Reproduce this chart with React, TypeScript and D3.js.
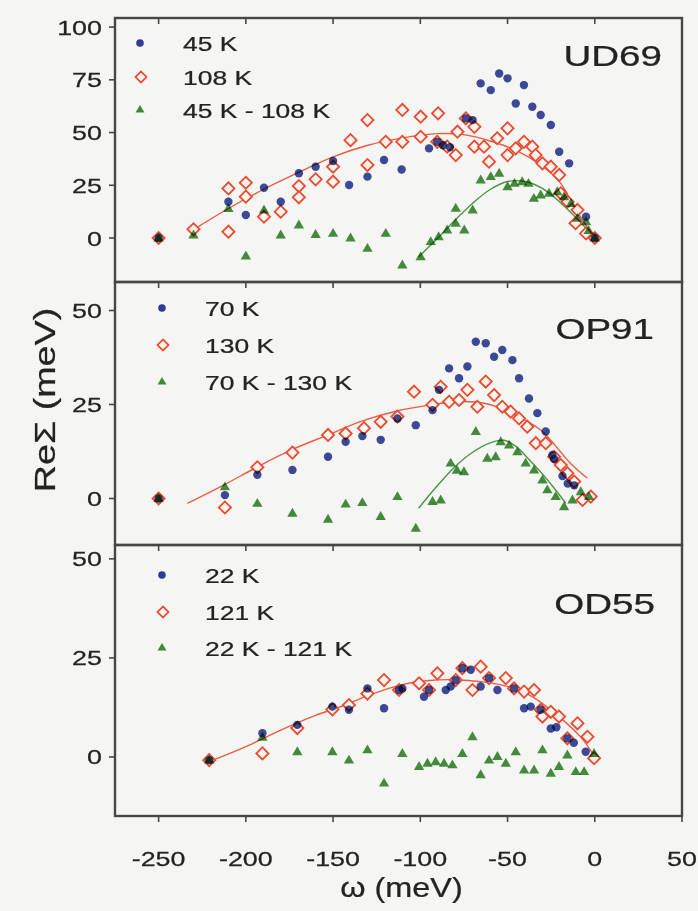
import React from "react";
import * as d3 from "d3";

type Pt = [number, number];

// shared energy axis (meV)
const xTicks = [-250, -200, -150, -100, -50, 0, 50];

// ---- UD69 ----
const ud69Cold: Pt[] = [
  [-250, 0], [-210, 17.2], [-200, 10.9], [-189.6, 23.8], [-180, 17.2], [-169.6, 30.7],
  [-160, 33.8], [-150, 36.5], [-140.8, 25.1], [-130.3, 29.1], [-120.8, 37], [-110.7, 32.5],
  [-95, 42.5], [-90.3, 45.6], [-87, 44], [-83, 43], [-73.9, 56.7], [-70, 55.9],
  [-65.4, 73.3], [-59.6, 70.1], [-54.8, 78], [-50, 75.7], [-45.3, 63.8], [-40.6, 72.5],
  [-35.8, 62.2], [-31, 58.3], [-25.2, 53.6], [-20.4, 40.9], [-14.7, 35.4], [-5, 10.1], [0, 0],
];
const ud69Warm: Pt[] = [
  [-250, 0], [-230, 4.1], [-210, 23.5], [-210, 3], [-200, 26.2], [-200, 19.6], [-189.6, 10.1],
  [-180, 12.5], [-169.6, 24.6], [-169.6, 19.3], [-160, 27.8], [-150, 33.8], [-150, 26.7],
  [-140, 46.4], [-130.3, 55.9], [-130.3, 34.6], [-119.8, 45.6], [-110.3, 45.6], [-110.3, 60.7],
  [-99.8, 57.5], [-89.8, 59.1], [-99.8, 48], [-90.3, 45.6], [-84.6, 43.3], [-79.7, 39.3],
  [-78.7, 50.4], [-73.9, 56.7], [-69, 52.7], [-69, 43.3], [-63.5, 43.3], [-60.6, 36.2],
  [-55.9, 47.3], [-50, 52], [-50, 39.3], [-45.3, 42.5], [-40.6, 45.6], [-35.8, 43.3],
  [-33.9, 39.3], [-30, 35.4], [-25.2, 33.8], [-20.4, 29.9], [-19.5, 21.2], [-15.6, 17.2],
  [-9.9, 13.3], [-11, 7], [-5, 2.2], [0, 0],
];
const ud69Diff: Pt[] = [
  [-250, 0], [-230, 1.4], [-210, 14], [-200, -8.5], [-189.6, 13.3], [-180, 1.4], [-169.6, 6.2],
  [-160, 1.7], [-150, 2.2], [-140, 0], [-130.3, -4.9], [-119.8, 2.2], [-110.3, -12.8],
  [-99.8, -8.9], [-94, -1.7], [-89.5, 0.6], [-84.6, 3.8], [-79.7, 7], [-79.7, 14.1],
  [-74.8, 3.8], [-70, 13.3], [-65.4, 27.5], [-59.6, 29.1], [-54.8, 30.7], [-50, 24.3],
  [-46, 25.9], [-41.6, 26.7], [-38, 25.9], [-34.9, 18.8], [-31, 20.4], [-26.2, 21.2],
  [-21.5, 21.9], [-17.6, 19.6], [-13.7, 16.4], [-9.9, 9.3], [-5, 7.7], [-3.5, 3.5], [0, 0],
];
const ud69WarmFit: Pt[] = [
  [-230, 4], [-210, 14], [-190, 23], [-170, 31], [-150, 38.5], [-130, 44], [-110, 47.5],
  [-90, 49.5], [-75, 49], [-60, 46], [-45, 41.5], [-30, 34], [-20, 26.5], [-12, 15], [-5, 6], [0, 0],
];
const ud69DiffFit: Pt[] = [
  [-101, -9], [-90, 0], [-80, 8.5], [-70, 16.5], [-60, 23], [-50, 26.8], [-40, 26.8],
  [-30, 23.5], [-20, 17], [-10, 9], [0, 0],
];

// ---- OP91 ----
const op91Cold: Pt[] = [
  [-250, 0], [-212, 0.9], [-193.4, 6.3], [-173.3, 7.6], [-152.9, 11.1], [-142.8, 15.1],
  [-133.2, 16.6], [-122.7, 15.6], [-113.1, 21.3], [-102.6, 19.5], [-93, 23.5], [-89.3, 28.9],
  [-83.5, 34.6], [-77.8, 32], [-73, 35.1], [-68.2, 41.7], [-62.5, 41.3], [-57.7, 37.7],
  [-53, 39.5], [-47.2, 36.8], [-43.4, 32], [-37.7, 26.6], [-32.9, 22.7], [-28.1, 17.8],
  [-24.3, 11.6], [-23.3, 10.5], [-18.5, 6], [-15.5, 4], [-11.8, 3.5],
];
const op91Warm: Pt[] = [
  [-250, 0], [-212, -2.4], [-193.4, 8.3], [-173.3, 12.2], [-152.9, 16.9], [-142.8, 17.3],
  [-132.3, 18.7], [-122.7, 20.4], [-113.1, 21.8], [-103.6, 28.4], [-93, 24.9], [-88.3, 29.7],
  [-83.5, 25.7], [-77.8, 26.2], [-73, 28.9], [-67.3, 24.4], [-62.5, 31.1], [-57.7, 27.5],
  [-53, 24.4], [-48.2, 23.1], [-43.4, 21.3], [-38.7, 19.1], [-33.8, 14.7], [-28.1, 14.7],
  [-23.3, 11.1], [-19.5, 8.9], [-15.7, 6.7], [-11.8, 4.5], [-7, -0.4], [-2.3, 0.5],
];
const op91Diff: Pt[] = [
  [-250, 0], [-212, 3.1], [-193.4, -1.3], [-173.3, -3.9], [-152.9, -5.5], [-142.8, -1.5],
  [-133.2, -1.1], [-122.7, -4.8], [-113.1, 0.5], [-102.6, -7.9], [-93, -0.8], [-88.3, -0.4],
  [-82.6, 9.4], [-79, 7.5], [-75, 7.1], [-68.2, 17.8], [-61.6, 10.7], [-56.8, 11.1],
  [-53.9, 15.1], [-49.1, 14.2], [-44.4, 12.4], [-39.6, 9.4], [-34.8, 7.6], [-30, 4.9],
  [-27.2, 2.3], [-22.4, 0.5], [-17.6, -2.2], [-12.8, -0.4], [-8, 1.8], [-3.3, 0.5],
];
const op91WarmFit: Pt[] = [
  [-233.5, -1.3], [-213, 3.5], [-193, 8.5], [-173, 13.1], [-153, 16.9], [-134, 20.5],
  [-114, 23.2], [-94, 24.9], [-78, 25.8], [-62, 25.2], [-48, 22.8], [-31, 18.2], [-14, 9.4], [-4.2, 5.4],
];
const op91DiffFit: Pt[] = [
  [-101, -2.6], [-90, 3.5], [-80, 8.5], [-70, 12.3], [-60, 14.8], [-52, 15.5], [-45, 13.8],
  [-38, 10.5], [-30, 6.5], [-22, 2], [-16.6, -1.3],
];

// ---- OD55 ----
const od55Cold: Pt[] = [
  [-221, -0.8], [-190.5, 6], [-170.5, 8.1], [-150.4, 12.7], [-140.9, 11.9], [-130.3, 17.3],
  [-120.8, 12.3], [-112.2, 16.9], [-110.3, 17.3], [-97.9, 15.2], [-95, 16.9], [-85.4, 16.9],
  [-82.6, 17.8], [-79.7, 19.4], [-75.9, 22.4], [-71.1, 22], [-65.4, 17.8], [-60.6, 19.9],
  [-55.8, 16.9], [-46.3, 17.3], [-40.5, 12.3], [-36.7, 12.7], [-31, 11.9], [-25.2, 7.2],
  [-22, 7.5], [-15.7, 4.7], [-12, 3.6], [-5.2, 1.3],
];
const od55Warm: Pt[] = [
  [-221, -0.8], [-190.5, 0.9], [-170.5, 7.3], [-150.4, 12], [-140.9, 13.1], [-130.3, 16],
  [-120.8, 19.4], [-112.2, 16.9], [-100.7, 18.6], [-95, 16.9], [-90.2, 21.1], [-79.7, 19.4],
  [-75.9, 22.4], [-70.1, 16.9], [-65.4, 22.8], [-60.6, 19.9], [-51, 19.9], [-46.3, 17.3],
  [-40.5, 16.5], [-34.8, 16.9], [-31, 11.9], [-30, 10.2], [-25.2, 11.4], [-20.5, 10.2],
  [-15.7, 4.7], [-9.9, 8.5], [-4.2, 5.1], [-0.4, -0.3],
];
const od55Diff: Pt[] = [
  [-221, -0.8], [-190.5, 5], [-170.5, 1.3], [-150.4, 1.3], [-140.9, -0.8], [-130.3, 1.8],
  [-120.8, -6.6], [-110.3, 0.9], [-100.7, -2.4], [-95.9, -1.6], [-91.2, -1.2], [-86.4, -1.6],
  [-81.6, -2], [-75.9, 0.9], [-70.1, 5.1], [-65.4, -4.5], [-60.6, -0.8], [-55.8, 0.1],
  [-51, -1.6], [-45.3, 1.3], [-40.5, -3.3], [-34.8, -3.3], [-30, 1.8], [-25.2, -4.1],
  [-20.5, -2.4], [-15.7, 0.5], [-10.9, -3.7], [-6.1, -3.7], [-0.4, 0.9],
];
const od55WarmFit: Pt[] = [
  [-221, -1.2], [-200, 2.6], [-180, 6.8], [-160, 10.5], [-145, 12.8], [-130, 15.5],
  [-111, 18.2], [-95, 19.3], [-80, 19.5], [-65, 19], [-50, 17.8], [-35, 15], [-20, 10], [-8, 5], [0, 0],
];

// legend labels per panel
const ud69Names = ["45 K", "108 K", "45 K - 108 K"];
const op91Names = ["70 K", "130 K", "70 K - 130 K"];
const od55Names = ["22 K", "121 K", "22 K - 121 K"];

const ud69Ticks = [0, 25, 50, 75, 100];
const op91Ticks = [0, 25, 50];
const od55Ticks = [0, 25, 50];

const W = 698;
const H = 911;
const LEFT = 115;
const RIGHT = 682;

const BLUE = "#2d3c96";
const RED = "#e94b30";
const GREEN = "#3b8b33";
const INK = "#232323";
const FRAME = "#474747";
const FONT = "'Liberation Sans', Arial, Helvetica, sans-serif";

const x = d3.scaleLinear().domain([-275, 50]).range([LEFT, RIGHT]);

type Panel = {
  label: string;
  names: string[];
  top: number;
  bottom: number;
  domain: [number, number];
  ticks: number[];
  cold: Pt[];
  warm: Pt[];
  diff: Pt[];
  warmFit: Pt[];
  diffFit: Pt[] | null;
  legendX: number;
  legendY: number[];
  labelPos: [number, number];
};

const panels: Panel[] = [
  {
    label: "UD69", names: ud69Names, top: 18, bottom: 282, domain: [-20.85, 104.3], ticks: ud69Ticks,
    cold: ud69Cold, warm: ud69Warm, diff: ud69Diff, warmFit: ud69WarmFit, diffFit: ud69DiffFit,
    legendX: 140, legendY: [43, 77, 110], labelPos: [662, 66],
  },
  {
    label: "OP91", names: op91Names, top: 282, bottom: 545, domain: [-12.37, 57.58], ticks: op91Ticks,
    cold: op91Cold, warm: op91Warm, diff: op91Diff, warmFit: op91WarmFit, diffFit: op91DiffFit,
    legendX: 162, legendY: [308, 345, 382], labelPos: [654, 339],
  },
  {
    label: "OD55", names: od55Names, top: 545, bottom: 816, domain: [-14.9, 53.5], ticks: od55Ticks,
    cold: od55Cold, warm: od55Warm, diff: od55Diff, warmFit: od55WarmFit, diffFit: null,
    legendX: 162, legendY: [575, 612, 648], labelPos: [655, 614],
  },
];

const diamondPath = d3.symbol(d3.symbolSquare, 74)()!;
const diamondSmall = d3.symbol(d3.symbolSquare, 62)()!;
const trianglePath = d3.symbol(d3.symbolTriangle, 46)()!;
const triangleSmall = d3.symbol(d3.symbolTriangle, 34)()!;

function SText(props: {
  x: number; y: number; size: number; sx?: number; anchor?: string; rotate?: number; children: React.ReactNode;
}) {
  const { x: tx, y: ty, size, sx = 1.28, anchor = "start", rotate = 0, children } = props;
  return (
    <text
      transform={`translate(${tx},${ty}) rotate(${rotate}) scale(${sx},1)`}
      textAnchor={anchor as any}
      fontSize={size}
      fontFamily={FONT}
      fill={INK}
      stroke={INK}
      strokeWidth={0.25}
    >
      {children}
    </text>
  );
}

function PanelView({ p }: { p: Panel }) {
  const y = d3.scaleLinear().domain(p.domain).range([p.bottom, p.top]);
  const line = d3
    .line<Pt>()
    .x((d) => x(d[0]))
    .y((d) => y(d[1]))
    .curve(d3.curveCatmullRom.alpha(0.5));
  return (
    <g>
      {/* fitted guides */}
      <path d={line(p.warmFit)!} fill="none" stroke={RED} strokeWidth={1.4} opacity={0.9} />
      {p.diffFit && <path d={line(p.diffFit)!} fill="none" stroke={GREEN} strokeWidth={1.4} opacity={0.9} />}

      {/* high-temperature: open diamonds */}
      {p.warm.map((d, i) => (
        <path
          key={"w" + i}
          d={diamondPath}
          transform={`translate(${x(d[0])},${y(d[1])}) rotate(45)`}
          fill="#fdf3ef"
          stroke={RED}
          strokeWidth={1.8}
        />
      ))}
      {/* low-temperature: filled circles */}
      {p.cold.map((d, i) => (
        <circle
          key={"c" + i}
          cx={x(d[0])}
          cy={y(d[1])}
          r={4.2}
          fill={BLUE}
          style={{ mixBlendMode: "multiply" }}
          opacity={0.92}
        />
      ))}
      {/* difference: triangles */}
      {p.diff.map((d, i) => (
        <path
          key={"d" + i}
          d={trianglePath}
          transform={`translate(${x(d[0])},${y(d[1]) + 0.5})`}
          fill={GREEN}
          style={{ mixBlendMode: "multiply" }}
          opacity={0.95}
        />
      ))}

      {/* y axis ticks and labels */}
      {p.ticks.map((t) => (
        <g key={"yt" + t}>
          <line x1={LEFT - 6} x2={LEFT} y1={y(t)} y2={y(t)} stroke={FRAME} strokeWidth={1.6} />
          <SText x={LEFT - 13} y={y(t) + 7.5} size={21} anchor="end">
            {t}
          </SText>
        </g>
      ))}

      {/* legend */}
      <circle cx={p.legendX} cy={p.legendY[0]} r={3.8} fill={BLUE} />
      <path d={diamondSmall} transform={`translate(${p.legendX + 1},${p.legendY[1]}) rotate(45)`} fill="#fdf3ef" stroke={RED} strokeWidth={1.7} />
      <path d={triangleSmall} transform={`translate(${p.legendX},${p.legendY[2]})`} fill={GREEN} />
      {p.names.map((n, i) => (
        <SText key={n} x={p.legendX + 43} y={p.legendY[i] + 7.5} size={21} sx={1.26}>
          {n}
        </SText>
      ))}

      {/* sample label */}
      <SText x={p.labelPos[0]} y={p.labelPos[1]} size={29} sx={1.33} anchor="end">
        {p.label}
      </SText>

      {/* panel frame */}
      <rect x={LEFT} y={p.top} width={RIGHT - LEFT} height={p.bottom - p.top} fill="none" stroke={FRAME} strokeWidth={2.4} />
    </g>
  );
}

export default function App() {
  const edges = [panels[0].top, panels[0].bottom, panels[1].bottom, panels[2].bottom];
  return (
    <svg
      width={W}
      height={H}
      viewBox={`0 0 ${W} ${H}`}
      style={{ position: "absolute", left: 0, top: 0, background: "#f5f5f3" }}
    >
      <rect x={0} y={0} width={W} height={H} fill="#f5f5f3" />
      {panels.map((p) => (
        <PanelView key={p.label} p={p} />
      ))}

      {/* energy ticks hanging below each horizontal frame line */}
      {edges.map((e, k) =>
        xTicks.map((t) => (
          <line key={`xt${k}_${t}`} x1={x(t)} x2={x(t)} y1={e} y2={e + 6} stroke={FRAME} strokeWidth={1.6} />
        ))
      )}
      {xTicks.map((t) => (
        <SText key={"xl" + t} x={x(t)} y={866} size={21} anchor="middle">
          {String(t)}
        </SText>
      ))}

      <SText x={(LEFT + RIGHT) / 2 + 3} y={897} size={27} sx={1.2} anchor="middle">
        ω (meV)
      </SText>
      <SText x={55} y={400} size={29} sx={1.3} anchor="middle" rotate={-90}>
        ReΣ (meV)
      </SText>
    </svg>
  );
}
